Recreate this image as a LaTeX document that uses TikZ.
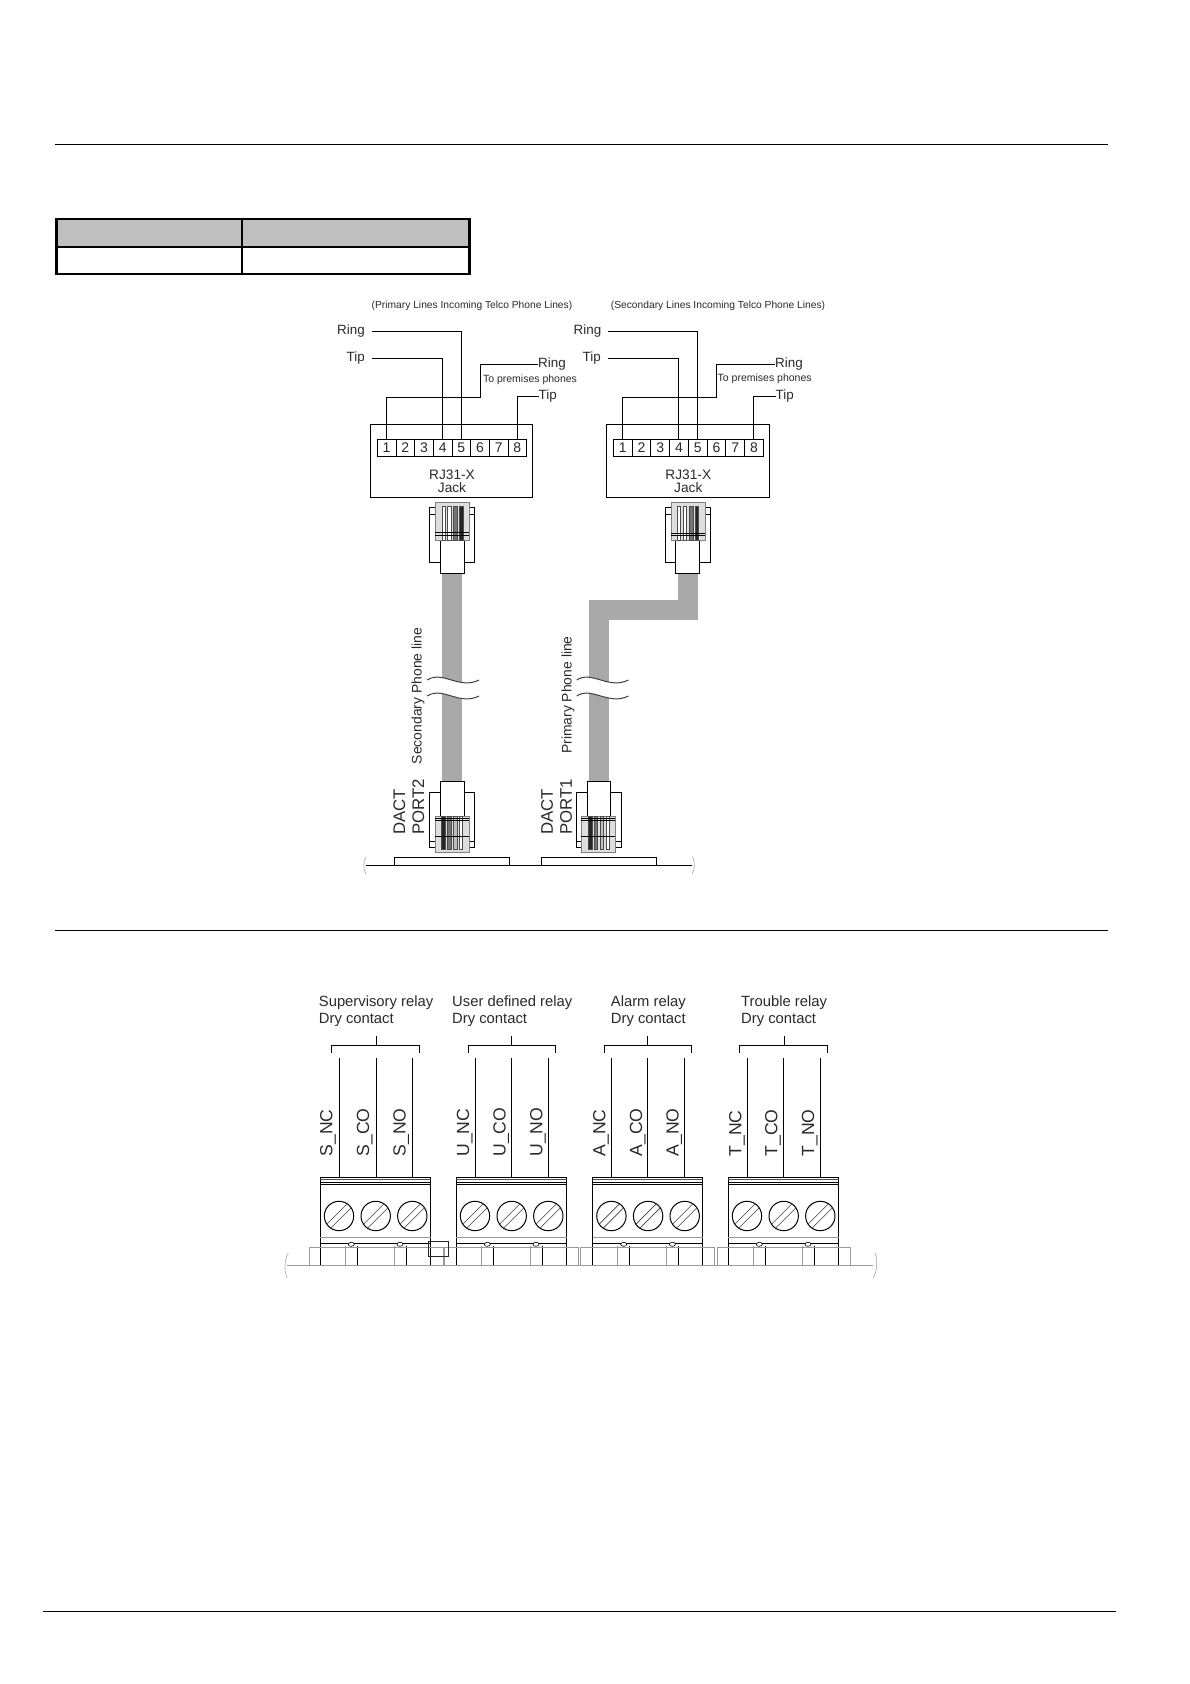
\documentclass[tikz,border=0pt]{standalone}
\usepackage{fontspec}
\setmainfont{Liberation Sans}
\definecolor{txt}{HTML}{2A2A2A}
\definecolor{hdr}{HTML}{BFBFBF}
\definecolor{cab}{HTML}{A9A9A9}
\definecolor{plg}{HTML}{DEDEDE}
\definecolor{thin}{HTML}{9A9A9A}
\tikzset{
  lbl/.style={inner sep=0pt,text=txt,font=\fontsize{13.4}{14}\selectfont},
  small/.style={inner sep=0pt,text=txt,font=\fontsize{#1}{11}\selectfont},
  big/.style={inner sep=0pt,text=txt,rotate=90,anchor=west,font=\fontsize{17.6}{18}\selectfont},
  pinbox/.style={draw=black,line width=.8pt,minimum width=18.7pt,minimum height=17pt,inner sep=0pt,text=txt,font=\fontsize{14}{14}\selectfont},
  wire/.style={draw=black,line width=.9pt},
  outl/.style={draw=black,line width=.9pt},
  cable/.style={draw=cab,line width=20pt,line join=miter},
  rule/.style={draw=black,line width=.9pt},
  tbl/.style={draw=black,line width=2.6pt},
  fine/.style={draw=thin,line width=.7pt},
  waveline/.style={draw=black!75,line width=1pt},
}
\newcommand{\contact}[5]{\fill[#5,draw=black!70,line width=.3pt] (#1,#3) rectangle (#2,#4);}
\newcommand{\plugup}[4]{%
  \draw[outl,fill=white] (#1,507.3) rectangle ++(45.2,55.4);
  \draw[outl] (#1,514) -- ++(45.2,0);
  \draw[outl,fill=white] (#3,530) rectangle ++(#4,43.3);
  \fill[plg] (#2,502.3) rectangle ++(33.5,37.4);
  \draw[draw=black!50,line width=.4pt] (#2,502.3) rectangle ++(33.5,37.4);
}
\newcommand{\plugdown}[4]{%
  \draw[outl,fill=white] (#1,792.3) rectangle ++(45.3,55.4);
  \draw[outl] (#1,841.3) -- ++(45.3,0);
  \draw[outl,fill=white] (#3,781.5) rectangle ++(#4,45);
  \fill[plg] (#2,816) rectangle ++(33.5,36.3);
  \draw[draw=black!50,line width=.4pt] (#2,816) rectangle ++(33.5,36.3);
}
\newcommand{\cablebreak}[1]{%
  \fill[white] (#1,680) .. controls (#1+15,670) and (#1+32,690) .. (#1+51.7,680) -- (#1+51.7,696) .. controls (#1+32,706) and (#1+15,686) .. (#1,696) -- cycle;
  \draw[waveline] (#1,680) .. controls (#1+15,670) and (#1+32,690) .. (#1+51.7,680);
  \draw[waveline] (#1,696) .. controls (#1+15,686) and (#1+32,706) .. (#1+51.7,696);
}
\begin{document}
\begin{tikzpicture}[x=1pt,y=-1pt]
\useasboundingbox[fill=white] (0,0) rectangle (1190,1684);

% page rules
\coordinate (r1a) at (55,144.5); \coordinate (r1b) at (1108,144.5);
\coordinate (r2a) at (55,930.5); \coordinate (r2b) at (1108,930.5);
\coordinate (r3a) at (43,1611);  \coordinate (r3b) at (1116,1611);
\draw[rule] (r1a) -- (r1b);
\draw[rule] (r2a) -- (r2b);
\draw[rule] (r3a) -- (r3b);

% table
\fill[hdr] (56.7,219) rectangle (469.3,247);
\draw[tbl] (56.7,219) rectangle (469.3,274);
\draw[tbl] (56.7,247) -- (469.3,247);
\draw[tbl] (242,219) -- (242,274);

% headings
\node[small=10.25] (headA) at (472,306) {(Primary Lines Incoming Telco Phone Lines)};
\node[small=10.25] (headB) at (718,306) {(Secondary Lines Incoming Telco Phone Lines)};

% cables
\coordinate (cabAt) at (452,570); \coordinate (cabAb) at (452,782);
\coordinate (cabBt) at (688,570); \coordinate (cabBm) at (688,610);
\coordinate (cabBn) at (599,610); \coordinate (cabBb) at (599,782);
\draw[cable] (cabAt) -- (cabAb);
\draw[cable] (cabBt) -- (cabBm) -- (cabBn) -- (cabBb);
\cablebreak{427.3}
\cablebreak{576.7}
\node[lbl,rotate=90,font=\fontsize{13.9}{14}\selectfont] (secline) at (418,696) {Secondary Phone line};
\node[lbl,rotate=90,font=\fontsize{13.9}{14}\selectfont] (priline) at (568,695) {Primary Phone line};

% jacks
\node[outl,minimum width=162pt,minimum height=73pt,inner sep=0pt] (jackA) at (451.3,460.8) {};
\node[outl,minimum width=163.4pt,minimum height=73pt,inner sep=0pt] (jackB) at (688,460.8) {};
\foreach \i in {1,...,8}{
  \node[pinbox] (pA\i) at ({377.3+9.33+18.67*(\i-1)},447.8) {\i};
  \node[pinbox] (pB\i) at ({613.3+9.37+18.75*(\i-1)},447.8) {\i};
}
\node[lbl,font=\fontsize{13.7}{14}\selectfont] (rjA) at (452,474.5) {RJ31-X};
\node[lbl,font=\fontsize{13.7}{14}\selectfont] (jkA) at (452,487.5) {Jack};
\node[lbl,font=\fontsize{13.7}{14}\selectfont] (rjB) at (688.3,474.5) {RJ31-X};
\node[lbl,font=\fontsize{13.7}{14}\selectfont] (jkB) at (688.3,487.5) {Jack};

% line labels, jack A
\node[lbl,anchor=east] (ringA) at (365,331.5) {Ring};
\node[lbl,anchor=east] (tipA)  at (365,358.5) {Tip};
\node[lbl,anchor=west] (ringA2) at (538,364.5) {Ring};
\node[lbl,anchor=west] (tipA2)  at (538.5,396.5) {Tip};
\node[small=10.5] (premA) at (530,379.5) {To premises phones};
\coordinate (ringAs) at (372.3,331.6);
\coordinate (tipAs)  at (372.3,358.7);
\draw[wire] (ringAs) -| (pA5.north);
\draw[wire] (tipAs) -| (pA4.north);
\draw[wire] (pA1.north) |- (480.3,397.3) |- (ringA2.west);
\draw[wire] (pA8.north) |- (tipA2.west);

% line labels, jack B
\node[lbl,anchor=east] (ringB) at (601.5,331.5) {Ring};
\node[lbl,anchor=east] (tipB)  at (601,358.5) {Tip};
\node[lbl,anchor=west] (ringB2) at (775,364.5) {Ring};
\node[lbl,anchor=west] (tipB2)  at (775.5,396.5) {Tip};
\node[small=10.5] (premB) at (764.7,378.5) {To premises phones};
\coordinate (ringBs) at (608.3,331.6);
\coordinate (tipBs)  at (608.3,358.7);
\draw[wire] (ringBs) -| (pB5.north);
\draw[wire] (tipBs) -| (pB4.north);
\draw[wire] (pB1.north) |- (716.3,397.3) |- (ringB2.west);
\draw[wire] (pB8.north) |- (tipB2.west);

% plugs at the jacks
\plugup{429.6}{435.3}{440.3}{24.4}
\contact{442}{444.7}{506}{539.7}{white}
\contact{447.3}{450.7}{506}{539.7}{white}
\contact{453.3}{456.7}{506}{539.7}{black!55}
\contact{459}{463.3}{506}{539.7}{black!85}
\draw[line width=.5pt] (435.3,532.7) -- ++(33.5,0) (435.3,534.9) -- ++(33.5,0);
\plugup{665}{671.3}{675.7}{24}
\contact{677}{680.3}{506}{539.7}{white}
\contact{683}{685.7}{506}{539.7}{white}
\contact{689.3}{692.7}{506}{539.7}{black!55}
\contact{694.7}{698}{506}{539.7}{black!85}
\draw[line width=.5pt] (671.3,533.3) -- ++(33.5,0) (671.3,535.5) -- ++(33.5,0);

% plugs at the board
\plugdown{429.4}{435.3}{440.3}{24.4}
\contact{441.3}{444.7}{816}{848.7}{black!85}
\contact{447.3}{450.7}{816}{848.7}{black!55}
\contact{453.3}{456.7}{816}{848.7}{black!25}
\contact{458.7}{462}{816}{848.7}{white}
\draw[line width=.5pt] (435.3,818.3) -- ++(33.5,0) (435.3,820.7) -- ++(33.5,0) (435.3,836.7) -- ++(33.5,0);
\plugdown{576.4}{581.3}{587.3}{23.4}
\contact{588}{591.7}{816}{848.7}{black!85}
\contact{594}{596.7}{816}{848.7}{black!55}
\contact{600}{603.3}{816}{848.7}{black!25}
\contact{605.7}{609}{816}{848.7}{white}
\draw[line width=.5pt] (581.3,818.3) -- ++(33.5,0) (581.3,820.7) -- ++(33.5,0) (581.3,836.7) -- ++(33.5,0);

\node[big,font=\fontsize{16.8}{18}\selectfont] (dactA) at (399.3,835) {DACT};
\node[big,font=\fontsize{16.8}{18}\selectfont] (portA) at (418.3,835) {PORT2};
\node[big,font=\fontsize{16.8}{18}\selectfont] (dactB) at (547,835) {DACT};
\node[big,font=\fontsize{16.8}{18}\selectfont] (portB) at (566,835) {PORT1};

% upper board
\draw[outl] (394.3,865.7) -- (394.3,857.3) -- (509.7,857.3) -- (509.7,865.7);
\draw[outl] (541.3,865.7) -- (541.3,857.3) -- (656.7,857.3) -- (656.7,865.7);
\coordinate (bdAl) at (366,865.7); \coordinate (bdAr) at (692,865.7);
\draw[outl] (bdAl) -- (bdAr);
\draw[fine,line width=.5pt] (366,856.7) .. controls (363,862) and (363,869) .. (366,874);
\draw[fine,line width=.5pt] (692.5,856.7) .. controls (695,862) and (695,869) .. (692,874);

% relay section
\foreach \n/\bx/\tx/\title/\bl/\br/\st/\wa/\wb/\wc/\la/\lb/\lc/\P in {
  S/320.3/318.7/Supervisory relay/331.3/419.3/376.3/339.3/376.3/412.3/328/364.7/401.3/S,
  U/456.3/452/User defined relay/468.3/555.7/511.3/475.7/511.3/548.3/464.7/501.3/538/U,
  A/592.7/610.7/Alarm relay/604.3/691.3/647.3/611.3/647.3/684.3/601/637.7/674.3/A,
  T/728.3/741/Trouble relay/739.3/827.7/784.3/747.3/783.3/820.3/737/773/809.7/T}{
  \node[lbl,anchor=west,font=\fontsize{14.8}{15}\selectfont] (title\n) at (\tx,1003) {\title};
  \node[lbl,anchor=west,font=\fontsize{14.8}{15}\selectfont] (dry\n) at (\tx,1019.5) {Dry contact};
  \draw[wire,line width=.7pt] (\bl,1052.7) -- (\bl,1045.3) -- (\br,1045.3) -- (\br,1052.7);
  \draw[wire,line width=.7pt] (\st,1036) -- (\st,1045.3);
  \node[big] (nc\n) at (\la,1156.7) {\P\_NC};
  \node[big] (co\n) at (\lb,1156.7) {\P\_CO};
  \node[big] (no\n) at (\lc,1156.7) {\P\_NO};
  % terminal block
  \draw[outl] (\bx,1265.7) -- (\bx,1177.3) -- ++(110.2,0) -- ++(0,88.4);
  \draw[line width=1.1pt,draw=black!70] (\bx,1179.3) -- ++(110.2,0);
  \draw[outl] (\bx,1182) -- ++(110.2,0);
  \draw[outl] (\bx,1184.7) -- ++(110.2,0);
  \draw[fine] (\bx,1237.7) -- ++(110.2,0);
  \draw[outl,line width=.6pt] (\bx,1243.3) -- ++(110.2,0);
  \foreach \cx/\m in {18.7/a,55.4/b,92/c}{
    \draw[outl,line width=1pt] (\bx+\cx,1216) circle (14.7);
    \draw[draw=black!75,line width=.6pt] (\bx+\cx-12,1216+8) -- (\bx+\cx+8,1216-12);
    \draw[draw=black!75,line width=.6pt] (\bx+\cx-8,1216+12) -- (\bx+\cx+12,1216-8);
  }
  \foreach \ox in {31,79.7}{
    \draw[draw=black,fill=white,line width=.6pt] (\bx+\ox,1244.3) ellipse (3 and 2);
    \draw[fine] (\bx+\ox-6,1246) -- (\bx+\ox-6,1265.7);
    \draw[outl,line width=.7pt] (\bx+\ox+6,1246) -- (\bx+\ox+6,1265.7);
  }
  \coordinate (\n wa) at (\wa,1057.7); \coordinate (\n wae) at (\wa,1177.3);
  \coordinate (\n wb) at (\wb,1057.7); \coordinate (\n wbe) at (\wb,1177.3);
  \coordinate (\n wc) at (\wc,1057.7); \coordinate (\n wce) at (\wc,1177.3);
  \draw[wire,line width=.8pt] (\n wa) -- (\n wae);
  \draw[wire,line width=.8pt] (\n wb) -- (\n wbe);
  \draw[wire,line width=.8pt] (\n wc) -- (\n wce);
}
% grey socket outlines on the lower board
\foreach \xa/\xb in {309/443.3,444.7/578,580.7/714.7,717.3/850.3}{
  \draw[fine] (\xa,1265.7) -- (\xa,1247) -- (\xb,1247) -- (\xb,1265.7);
}
\draw[fine,line width=.9pt] (287,1265.7) -- (873,1265.7);
\draw[fine,line width=.5pt] (288.3,1253) .. controls (284,1260) and (284,1272) .. (287.3,1278);
\draw[fine,line width=.5pt] (875,1253) .. controls (878,1260) and (877,1272) .. (873,1278);
\draw[draw=black!85,line width=.8pt] (428.3,1241) rectangle (448.7,1256.7);
\end{tikzpicture}
\end{document}
